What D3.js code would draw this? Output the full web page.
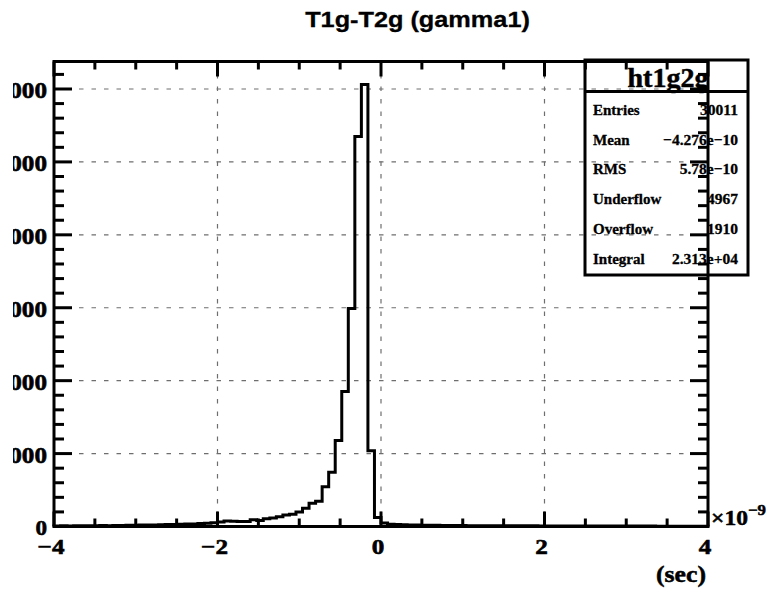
<!DOCTYPE html>
<html lang="en">
<head>
  <meta charset="UTF-8">
  <title>T1g-T2g (gamma1)</title>
  <script src="https://d3js.org/d3.v7.min.js"></script>
  <style>
    html, body { margin: 0; padding: 0; background: #fff; }
    svg { display: block; }
  </style>
</head>
<body>
  <script>
    "use strict";
    // histogram ht1g2g: 100 bins from -4 to 4 (x 1e-9 sec)
    var xLo = -4, xHi = 4;
    var counts = [
      8, 9, 8, 10, 11, 10, 12, 13, 12, 14, 15, 16, 17, 19, 20, 22, 23, 26, 28, 30, 33, 36, 40, 44, 50,
      62, 74, 72, 70, 68, 92, 84, 106, 118, 135, 158,
      168, 198, 250, 318, 345,
      545, 745, 1180, 1850, 2990, 5350, 6060,
      1040, 125, 48,
      30, 27, 24, 22, 20, 18, 17, 16, 15, 14, 13, 13, 12, 12, 11, 11, 10, 10, 10, 9,
      9, 9, 9, 8, 8, 8, 8, 8, 7, 7, 7, 7, 7, 7, 6, 6, 6, 6, 6, 6, 6, 5, 5, 5, 5, 5, 5, 5, 5
    ];
    var yMax = 6377;
    var xTicks = [-4, -2, 0, 2, 4];
    var xTickLabels = ["\u22124", "\u22122", "0", "2", "4"];
    var yTicks = [0, 1000, 2000, 3000, 4000, 5000, 6000];
    var yTickLabels = ["0", "1000", "2000", "3000", "4000", "5000", "6000"];
    var statNames = ["Entries", "Mean", "RMS", "Underflow", "Overflow", "Integral"];
    var statValues = ["30011", "\u22124.276e\u221210", "5.78e\u221210", "4967", "1910", "2.313e+04"];

    var W = 774, H = 592;
    var frame = { left: 54, right: 708, top: 61.5, bottom: 526.5 };
    var serif = "'Liberation Serif', 'Times New Roman', serif";
    var sans = "'Liberation Sans', Arial, Helvetica, sans-serif";

    var svg = d3.select("body").append("svg")
      .attr("width", W)
      .attr("height", H);

    var x = d3.scaleLinear().domain([xLo, xHi]).range([frame.left, frame.right]);
    var y = d3.scaleLinear().domain([0, yMax]).range([frame.bottom, frame.top]);
    var binW = (xHi - xLo) / counts.length;

    // grid
    var grid = svg.append("g")
      .attr("stroke", "#6e6e6e")
      .attr("stroke-width", 1.2)
      .attr("stroke-dasharray", "4.5,8");
    grid.selectAll("line.gy")
      .data(yTicks.filter(function (d) { return d > 0; }))
      .enter().append("line")
      .attr("x1", frame.left).attr("x2", frame.right)
      .attr("y1", function (d) { return y(d); })
      .attr("y2", function (d) { return y(d); });
    grid.selectAll("line.gx")
      .data(xTicks.filter(function (d) { return d > xLo && d < xHi; }))
      .enter().append("line")
      .attr("y1", frame.top).attr("y2", frame.bottom)
      .attr("x1", function (d) { return x(d); })
      .attr("x2", function (d) { return x(d); });

    // histogram outline
    var pts = [{ x: xLo, v: 0 }];
    counts.forEach(function (c, i) {
      pts.push({ x: xLo + i * binW, v: c });
      pts.push({ x: xLo + (i + 1) * binW, v: c });
    });
    pts.push({ x: xHi, v: 0 });
    var line = d3.line()
      .x(function (d) { return x(d.x); })
      .y(function (d) { return y(d.v); });
    svg.append("path")
      .datum(pts)
      .attr("fill", "none")
      .attr("stroke", "#000")
      .attr("stroke-width", 3)
      .attr("d", line);

    // stats box (no fill)
    var box = { x0: 585, x1: 748, y0: 60, y1: 275, head: 91.5 };
    var stats = svg.append("g");
    stats.append("rect")
      .attr("x", box.x0).attr("y", box.y0)
      .attr("width", box.x1 - box.x0).attr("height", box.y1 - box.y0)
      .attr("fill", "none").attr("stroke", "#000").attr("stroke-width", 3);
    stats.append("line")
      .attr("x1", box.x0).attr("x2", box.x1)
      .attr("y1", box.head).attr("y2", box.head)
      .attr("stroke", "#000").attr("stroke-width", 3);
    stats.append("text")
      .attr("x", 668).attr("y", 87)
      .attr("text-anchor", "middle")
      .attr("font-family", serif).attr("font-weight", "bold").attr("font-size", 28)
      .attr("stroke", "#000").attr("stroke-width", 0.5)
      .text("ht1g2g");
    stats.selectAll("text.name")
      .data(statNames)
      .enter().append("text")
      .attr("x", 593)
      .attr("y", function (d, i) { return 115 + i * 29.7; })
      .attr("font-family", serif).attr("font-weight", "bold").attr("font-size", 15)
      .attr("stroke", "#000").attr("stroke-width", 0.3)
      .text(function (d) { return d; });
    stats.selectAll("text.val")
      .data(statValues)
      .enter().append("text")
      .attr("x", 738)
      .attr("y", function (d, i) { return 115 + i * 29.7; })
      .attr("text-anchor", "end")
      .attr("font-family", serif).attr("font-weight", "bold").attr("font-size", 15.5)
      .attr("stroke", "#000").attr("stroke-width", 0.3)
      .text(function (d) { return d; });

    // frame and ticks
    var axes = svg.append("g").attr("stroke", "#000");
    axes.append("rect")
      .attr("x", frame.left).attr("y", frame.top)
      .attr("width", frame.right - frame.left).attr("height", frame.bottom - frame.top)
      .attr("fill", "none").attr("stroke-width", 3);

    var yMinor = d3.range(0, yMax, 200).filter(function (d) { return d % 1000 !== 0; });
    var xMinor = d3.range(xLo, xHi, 0.5).filter(function (d) { return d % 2 !== 0; });

    function yTickMarks(data, len) {
      axes.selectAll(null).data(data).enter().append("line")
        .attr("stroke-width", 3)
        .attr("x1", frame.left).attr("x2", frame.left + len)
        .attr("y1", function (d) { return y(d); }).attr("y2", function (d) { return y(d); });
      axes.selectAll(null).data(data).enter().append("line")
        .attr("stroke-width", 3)
        .attr("x1", frame.right).attr("x2", frame.right - len)
        .attr("y1", function (d) { return y(d); }).attr("y2", function (d) { return y(d); });
    }
    function xTickMarks(data, len) {
      axes.selectAll(null).data(data).enter().append("line")
        .attr("stroke-width", 3)
        .attr("y1", frame.bottom).attr("y2", frame.bottom - len)
        .attr("x1", function (d) { return x(d); }).attr("x2", function (d) { return x(d); });
      axes.selectAll(null).data(data).enter().append("line")
        .attr("stroke-width", 3)
        .attr("y1", frame.top).attr("y2", frame.top + len)
        .attr("x1", function (d) { return x(d); }).attr("x2", function (d) { return x(d); });
    }
    yTickMarks(yTicks, 18);
    yTickMarks(yMinor, 10);
    xTickMarks(xTicks, 15);
    xTickMarks(xMinor, 8);

    // y labels (left part cut by the picture edge)
    svg.append("clipPath").attr("id", "ylabClip")
      .append("rect").attr("x", 13).attr("y", 0).attr("width", 60).attr("height", H);
    var ylab = svg.append("g").attr("clip-path", "url(#ylabClip)");
    ylab.selectAll("text")
      .data(yTicks)
      .enter().append("text")
      .attr("transform", function (d) { return "translate(47," + (y(d) + (d === 0 ? 8.5 : 9.5)) + ") scale(1.05,1)"; })
      .attr("text-anchor", "end")
      .attr("font-family", serif).attr("font-weight", "bold").attr("font-size", function (d) { return d === 0 ? 22 : 24; })
      .attr("stroke", "#000").attr("stroke-width", 0.6)
      .text(function (d, i) { return yTickLabels[i]; });

    // x labels
    svg.append("g").selectAll("text")
      .data(xTicks)
      .enter().append("text")
      .attr("transform", function (d) { return "translate(" + (x(d) - 3) + ",554) scale(1.14,1)"; })
      .attr("text-anchor", "middle")
      .attr("font-family", serif).attr("font-weight", "bold").attr("font-size", 22)
      .attr("stroke", "#000").attr("stroke-width", 0.6)
      .text(function (d, i) { return xTickLabels[i]; });

    // exponent
    var expo = svg.append("text")
      .attr("transform", "translate(711,525) scale(1.12,1)")
      .attr("font-family", serif).attr("font-weight", "bold").attr("font-size", 21)
      .attr("stroke", "#000").attr("stroke-width", 0.5);
    expo.append("tspan").text("\u00d710");
    expo.append("tspan").attr("dy", -10).attr("font-size", 15).text("\u22129");

    // axis title
    svg.append("text")
      .attr("transform", "translate(706,582) scale(1.12,1)")
      .attr("text-anchor", "end")
      .attr("font-family", serif).attr("font-weight", "bold").attr("font-size", 23)
      .attr("stroke", "#000").attr("stroke-width", 0.5)
      .text("(sec)");

    // title
    svg.append("text")
      .attr("transform", "translate(417.5,27) scale(1.15,1)")
      .attr("text-anchor", "middle")
      .attr("font-family", sans).attr("font-weight", "bold").attr("font-size", 22)
      .attr("stroke", "#000").attr("stroke-width", 0.3)
      .text("T1g-T2g (gamma1)");
  </script>
</body>
</html>
